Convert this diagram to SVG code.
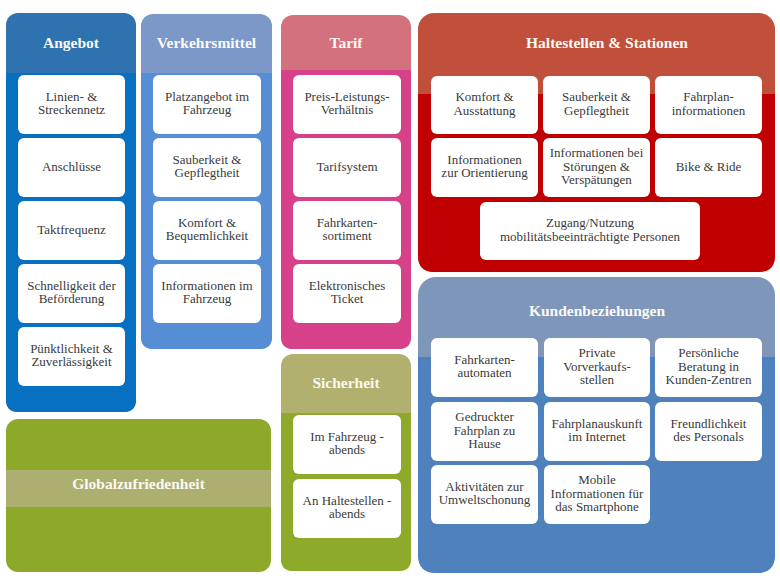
<svg xmlns="http://www.w3.org/2000/svg" width="780" height="588" viewBox="0 0 780 588">
<style>
.card{fill:#ffffff}
.t{font-family:"Liberation Serif","DejaVu Serif",serif;font-size:13px;fill:#3a3a3a;text-anchor:middle;transform:translate(0px,-1.5px)}
.h{font-family:"Liberation Serif","DejaVu Serif",serif;font-size:15.5px;font-weight:bold;fill:#fbfaf2;text-anchor:middle}
</style>
<rect width="780" height="588" fill="#ffffff"/>

<g id="angebot">
<rect x="6" y="13" width="130" height="399" rx="12" fill="#2f72b0"/>
<path d="M6,73 H136 V400 Q136,412 124,412 H18 Q6,412 6,400 Z" fill="#0870c1"/>
<text class="h" x="71" y="48">Angebot</text>
<g id="a1"><rect class="card" x="18" y="75" width="107" height="59" rx="6"/><text class="t" x="71.5" y="102.25">Linien- &amp;<tspan x="71.5" dy="13.5">Streckennetz</tspan></text></g>
<g id="a2"><rect class="card" x="18" y="138" width="107" height="59" rx="6"/><text class="t" x="71.5" y="172">Anschlüsse</text></g>
<g id="a3"><rect class="card" x="18" y="201" width="107" height="59" rx="6"/><text class="t" x="71.5" y="235">Taktfrequenz</text></g>
<g id="a4"><rect class="card" x="18" y="264" width="107" height="59" rx="6"/><text class="t" x="71.5" y="291.25">Schnelligkeit der<tspan x="71.5" dy="13.5">Beförderung</tspan></text></g>
<g id="a5"><rect class="card" x="18" y="327" width="107" height="59" rx="6"/><text class="t" x="71.5" y="354.25">Pünktlichkeit &amp;<tspan x="71.5" dy="13.5">Zuverlässigkeit</tspan></text></g>
</g>

<g id="verkehrsmittel">
<rect x="141" y="14" width="131" height="335" rx="12" fill="#7b98c9"/>
<path d="M141,73 H272 V337 Q272,349 260,349 H153 Q141,349 141,337 Z" fill="#558ed5"/>
<text class="h" x="206.5" y="48">Verkehrsmittel</text>
<g id="v1"><rect class="card" x="153" y="75" width="108" height="59" rx="6"/><text class="t" x="207" y="102.25">Platzangebot im<tspan x="207" dy="13.5">Fahrzeug</tspan></text></g>
<g id="v2"><rect class="card" x="153" y="138" width="108" height="59" rx="6"/><text class="t" x="207" y="165.25">Sauberkeit &amp;<tspan x="207" dy="13.5">Gepflegtheit</tspan></text></g>
<g id="v3"><rect class="card" x="153" y="201" width="108" height="59" rx="6"/><text class="t" x="207" y="228.25">Komfort &amp;<tspan x="207" dy="13.5">Bequemlichkeit</tspan></text></g>
<g id="v4"><rect class="card" x="153" y="264" width="108" height="59" rx="6"/><text class="t" x="207" y="291.25">Informationen im<tspan x="207" dy="13.5">Fahrzeug</tspan></text></g>
</g>

<g id="tarif">
<rect x="281" y="15" width="130" height="334" rx="12" fill="#d4717f"/>
<path d="M281,70 H411 V337 Q411,349 399,349 H293 Q281,349 281,337 Z" fill="#d6418a"/>
<text class="h" x="346" y="48">Tarif</text>
<g id="t1"><rect class="card" x="293" y="75" width="108" height="59" rx="6"/><text class="t" x="347" y="102.25">Preis-Leistungs-<tspan x="347" dy="13.5">Verhältnis</tspan></text></g>
<g id="t2"><rect class="card" x="293" y="138" width="108" height="59" rx="6"/><text class="t" x="347" y="172">Tarifsystem</text></g>
<g id="t3"><rect class="card" x="293" y="201" width="108" height="59" rx="6"/><text class="t" x="347" y="228.25">Fahrkarten-<tspan x="347" dy="13.5">sortiment</tspan></text></g>
<g id="t4"><rect class="card" x="293" y="264" width="108" height="59" rx="6"/><text class="t" x="347" y="291.25">Elektronisches<tspan x="347" dy="13.5">Ticket</tspan></text></g>
</g>

<g id="sicherheit">
<rect x="281" y="354" width="130" height="217" rx="12" fill="#b1b06f"/>
<path d="M281,413 H411 V559 Q411,571 399,571 H293 Q281,571 281,559 Z" fill="#8eaa2b"/>
<text class="h" x="346" y="388">Sicherheit</text>
<g id="s1"><rect class="card" x="293" y="415" width="108" height="59" rx="6"/><text class="t" x="347" y="442.25">Im Fahrzeug -<tspan x="347" dy="13.5">abends</tspan></text></g>
<g id="s2"><rect class="card" x="293" y="479" width="108" height="59" rx="6"/><text class="t" x="347" y="506.25">An Haltestellen -<tspan x="347" dy="13.5">abends</tspan></text></g>
</g>

<g id="haltestellen">
<rect x="418" y="13" width="357" height="259" rx="16" fill="#c0503c"/>
<path d="M418,94 H775 V256 Q775,272 759,272 H434 Q418,272 418,256 Z" fill="#c00000"/>
<text class="h" x="607" y="48">Haltestellen &amp; Stationen</text>
<g id="h1"><rect class="card" x="431" y="76" width="107" height="58" rx="6"/><text class="t" x="484.5" y="102.75">Komfort &amp;<tspan x="484.5" dy="13.5">Ausstattung</tspan></text></g>
<g id="h2"><rect class="card" x="543" y="76" width="107" height="58" rx="6"/><text class="t" x="596.5" y="102.75">Sauberkeit &amp;<tspan x="596.5" dy="13.5">Gepflegtheit</tspan></text></g>
<g id="h3"><rect class="card" x="655" y="76" width="107" height="58" rx="6"/><text class="t" x="708.5" y="102.75">Fahrplan-<tspan x="708.5" dy="13.5">informationen</tspan></text></g>
<g id="h4"><rect class="card" x="431" y="138" width="107" height="59" rx="6"/><text class="t" x="484.5" y="165.25">Informationen<tspan x="484.5" dy="13.5">zur Orientierung</tspan></text></g>
<g id="h5"><rect class="card" x="543" y="138" width="107" height="59" rx="6"/><text class="t" x="596.5" y="158.5">Informationen bei<tspan x="596.5" dy="13.5">Störungen  &amp;</tspan><tspan x="596.5" dy="13.5">Verspätungen</tspan></text></g>
<g id="h6"><rect class="card" x="655" y="138" width="107" height="59" rx="6"/><text class="t" x="708.5" y="172">Bike &amp; Ride</text></g>
<g id="h7"><rect class="card" x="480" y="202" width="220" height="58" rx="6"/><text class="t" x="590" y="228.75">Zugang/Nutzung<tspan x="590" dy="13.5">mobilitätsbeeinträchtigte Personen</tspan></text></g>
</g>

<g id="kundenbeziehungen">
<rect x="418" y="277" width="357" height="296" rx="18" fill="#7f96bb"/>
<path d="M418,357 H775 V555 Q775,573 757,573 H436 Q418,573 418,555 Z" fill="#4f81bd"/>
<text class="h" x="597" y="316">Kundenbeziehungen</text>
<g id="k1"><rect class="card" x="431" y="338" width="107" height="59" rx="6"/><text class="t" x="484.5" y="365.25">Fahrkarten-<tspan x="484.5" dy="13.5">automaten</tspan></text></g>
<g id="k2"><rect class="card" x="544" y="338" width="106" height="59" rx="6"/><text class="t" x="597" y="358.5">Private<tspan x="597" dy="13.5">Vorverkaufs-</tspan><tspan x="597" dy="13.5">stellen</tspan></text></g>
<g id="k3"><rect class="card" x="655" y="338" width="107" height="59" rx="6"/><text class="t" x="708.5" y="358.5">Persönliche<tspan x="708.5" dy="13.5">Beratung in</tspan><tspan x="708.5" dy="13.5">Kunden-Zentren</tspan></text></g>
<g id="k4"><rect class="card" x="431" y="402" width="107" height="59" rx="6"/><text class="t" x="484.5" y="422.5">Gedruckter<tspan x="484.5" dy="13.5">Fahrplan zu</tspan><tspan x="484.5" dy="13.5">Hause</tspan></text></g>
<g id="k5"><rect class="card" x="544" y="402" width="106" height="59" rx="6"/><text class="t" x="597" y="429.25">Fahrplanauskunft<tspan x="597" dy="13.5">im Internet</tspan></text></g>
<g id="k6"><rect class="card" x="655" y="402" width="107" height="59" rx="6"/><text class="t" x="708.5" y="429.25">Freundlichkeit<tspan x="708.5" dy="13.5">des Personals</tspan></text></g>
<g id="k7"><rect class="card" x="431" y="465" width="107" height="59" rx="6"/><text class="t" x="484.5" y="492.25">Aktivitäten zur<tspan x="484.5" dy="13.5">Umweltschonung</tspan></text></g>
<g id="k8"><rect class="card" x="544" y="465" width="106" height="59" rx="6"/><text class="t" x="597" y="485.5">Mobile<tspan x="597" dy="13.5">Informationen für</tspan><tspan x="597" dy="13.5">das Smartphone</tspan></text></g>
</g>

<g id="globalzufriedenheit">
<rect x="6" y="419" width="265" height="153" rx="12" fill="#8ea92a"/>
<rect x="6" y="470" width="265" height="37" fill="#adaf70"/>
<text class="h" x="138.5" y="489">Globalzufriedenheit</text>
</g>
</svg>
